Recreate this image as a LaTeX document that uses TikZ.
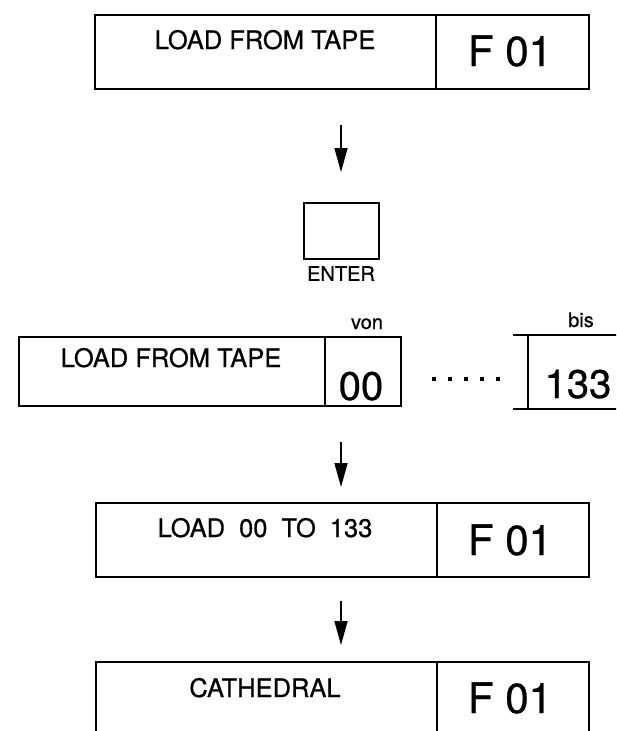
\documentclass[tikz,border=0pt]{standalone}
\usepackage{fontspec}
\setmainfont{TeX Gyre Heros}[FakeBold=0.7]
\usetikzlibrary{arrows.meta}
\begin{document}
\begin{tikzpicture}[x=1pt,y=-1pt,
  cell/.style={draw, line width=1.4pt, rectangle, inner sep=0pt},
  lbl/.style={inner sep=0pt, font=\fontsize{25.5}{25.5}\selectfont, text height=18pt, text depth=0pt},
  big/.style={inner sep=0pt, font=\fontsize{42}{42}\selectfont, text height=30pt, text depth=0pt},
  mid/.style={inner sep=0pt, font=\fontsize{40}{40}\selectfont, text height=28pt, text depth=0pt},
  small/.style={inner sep=0pt, font=\fontsize{20}{20}\selectfont},
  flow/.style={line width=1.5pt, -{Triangle[length=24pt,width=13pt]}},
  sqdot/.style={fill, rectangle, inner sep=0pt, minimum size=3.8pt}
]
\clip (0,0) rectangle (616,731);
\fill[white] (0,0) rectangle (616,731);

% row 1
\node[cell, minimum width=341pt, minimum height=74pt] (b1l) at (265.5,52) {};
\node[cell, minimum width=153pt, minimum height=74pt] (b1r) at (512.5,52) {};
\node[lbl] (t1) at (265,40) {LOAD FROM TAPE};
\node[big] (f1) at (510,51) {F 01};

% arrow 1
\coordinate (a1s) at (341,125);
\coordinate (a1e) at (341,172);
\draw[flow] (a1s) -- (a1e);

% ENTER key
\node[cell, minimum width=75pt, minimum height=56pt] (enter) at (341.5,231) {};
\node[small, anchor=north] (entl) at (341,266) {ENTER};

% row 3
\node[cell, minimum width=306pt, minimum height=69pt] (b3l) at (172,371.5) {};
\node[cell, minimum width=76pt, minimum height=69pt] (b3r) at (363,371.5) {};
\node[lbl] (t3) at (171,358) {LOAD FROM TAPE};
\node[mid] (von0) at (361,386) {00};
\node[small, anchor=base] (von) at (367,329) {von};

\node[sqdot] (d1) at (434,379) {};
\node[sqdot] (d2) at (450,379) {};
\node[sqdot] (d3) at (466,379) {};
\node[sqdot] (d4) at (482,379) {};
\node[sqdot] (d5) at (498,379) {};

\coordinate (bt1) at (513,335);
\coordinate (bt2) at (620,335);
\coordinate (bb1) at (513,409);
\coordinate (bb2) at (620,409);
\coordinate (bv1) at (528,335);
\coordinate (bv2) at (528,409);
\draw[line width=1.4pt] (bt1) -- (bt2);
\draw[line width=1.4pt] (bb1) -- (bb2);
\draw[line width=1.4pt] (bv1) -- (bv2);
\node[small, anchor=base] (bis) at (581,327) {bis};
\node[mid] (bis133) at (578,384) {133};

% arrow 2
\coordinate (a2s) at (341,442);
\coordinate (a2e) at (341,487);
\draw[flow] (a2s) -- (a2e);

% row 4
\node[cell, minimum width=341pt, minimum height=74pt] (b4l) at (266.5,540) {};
\node[cell, minimum width=152pt, minimum height=74pt] (b4r) at (513,540) {};
\node[lbl] (t4) at (265,528) {LOAD\hspace{14pt}00\hspace{14pt}TO\hspace{14pt}133};
\node[big] (f4) at (510,540) {F 01};

% arrow 3
\coordinate (a3s) at (341,601);
\coordinate (a3e) at (341,645);
\draw[flow] (a3s) -- (a3e);

% row 5
\node[cell, minimum width=341pt, minimum height=74pt] (b5l) at (266.5,699) {};
\node[cell, minimum width=152pt, minimum height=74pt] (b5r) at (513,699) {};
\node[lbl] (t5) at (265,688) {CATHEDRAL};
\node[big] (f5) at (510,698) {F 01};
\end{tikzpicture}
\end{document}
